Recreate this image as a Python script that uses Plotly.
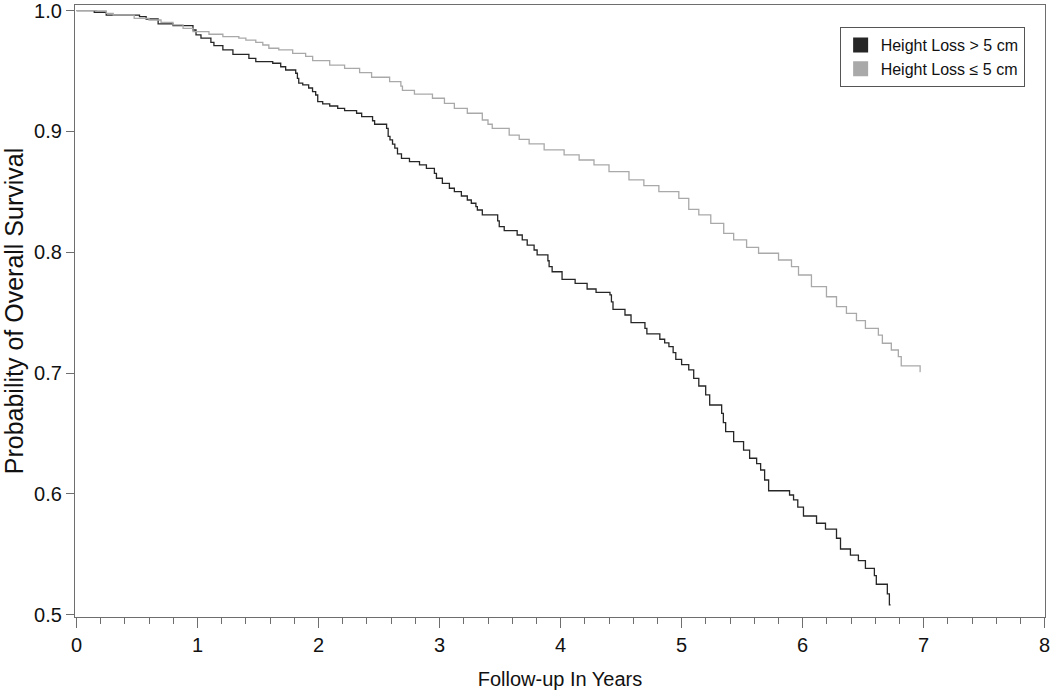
import plotly.graph_objects as go

# Kaplan-Meier step points: (years, survival)
loss_gt5_years = [0, 0.146, 0.245, 0.52, 0.575, 0.674, 0.797, 0.962, 0.987, 1.028, 1.110, 1.135,
                  1.209, 1.292, 1.424, 1.481, 1.621, 1.687, 1.728, 1.811, 1.825, 1.836, 1.869,
                  1.918, 1.950, 1.976, 1.993, 2.034, 2.092, 2.158, 2.215, 2.314, 2.356, 2.446,
                  2.463, 2.562, 2.575, 2.590, 2.611, 2.630, 2.652, 2.685, 2.751, 2.834, 2.891,
                  2.957, 2.974, 3.023, 3.081, 3.122, 3.180, 3.229, 3.262, 3.300, 3.312, 3.353,
                  3.480, 3.493, 3.534, 3.641, 3.683, 3.724, 3.781, 3.806, 3.895, 3.905, 3.930,
                  4.012, 4.120, 4.219, 4.293, 4.408, 4.420, 4.433, 4.532, 4.582, 4.697, 4.713,
                  4.820, 4.860, 4.895, 4.930, 4.952, 5.000, 5.059, 5.100, 5.142, 5.199, 5.232,
                  5.331, 5.345, 5.364, 5.430, 5.512, 5.562, 5.620, 5.653, 5.686, 5.719, 5.892,
                  5.925, 5.960, 6.007, 6.115, 6.189, 6.280, 6.313, 6.395, 6.461, 6.519, 6.593,
                  6.609, 6.700, 6.717, 6.727]
loss_gt5_surv = [1.0, 0.9987, 0.9964, 0.9950, 0.9931, 0.9890, 0.9876, 0.9840, 0.9799, 0.9772,
                 0.9738, 0.9710, 0.9675, 0.9639, 0.9606, 0.9578, 0.9565, 0.9536, 0.9509, 0.9482,
                 0.9440, 0.9401, 0.9385, 0.9360, 0.9330, 0.9302, 0.9247, 0.9228, 0.9211, 0.9192,
                 0.9172, 0.9151, 0.9123, 0.9089, 0.9060, 0.9026, 0.8960, 0.8930, 0.8895, 0.8863,
                 0.8814, 0.8778, 0.8750, 0.8723, 0.8695, 0.8654, 0.8613, 0.8571, 0.8530, 0.8502,
                 0.8466, 0.8433, 0.8406, 0.8378, 0.8350, 0.8309, 0.8260, 0.8212, 0.8179, 0.8143,
                 0.8102, 0.8060, 0.8019, 0.7978, 0.7930, 0.7881, 0.7839, 0.7776, 0.7743, 0.7696,
                 0.7669, 0.7647, 0.7590, 0.7528, 0.7481, 0.7417, 0.7371, 0.7324, 0.7280, 0.7250,
                 0.7219, 0.7170, 0.7114, 0.7070, 0.7026, 0.6957, 0.6893, 0.6819, 0.6736, 0.6667,
                 0.6590, 0.6515, 0.6432, 0.6363, 0.6295, 0.6250, 0.6198, 0.6115, 0.6026, 0.5991,
                 0.5950, 0.5890, 0.5817, 0.5757, 0.5709, 0.5633, 0.5544, 0.5494, 0.5447, 0.5384,
                 0.5323, 0.5252, 0.5172, 0.5081, 0.5081]

loss_le5_years = [0, 0.162, 0.245, 0.303, 0.476, 0.599, 0.698, 0.797, 0.880, 0.962, 1.094, 1.209,
                  1.341, 1.399, 1.481, 1.539, 1.589, 1.671, 1.786, 1.893, 1.951, 2.092, 2.215,
                  2.339, 2.438, 2.587, 2.680, 2.693, 2.792, 2.941, 3.040, 3.122, 3.229, 3.353,
                  3.400, 3.435, 3.575, 3.658, 3.740, 3.864, 4.029, 4.153, 4.276, 4.400, 4.565,
                  4.688, 4.812, 4.977, 5.059, 5.142, 5.241, 5.348, 5.430, 5.537, 5.636, 5.801,
                  5.908, 5.966, 6.073, 6.197, 6.280, 6.362, 6.445, 6.519, 6.626, 6.659, 6.733,
                  6.791, 6.815, 6.971, 6.975]
loss_le5_surv = [1.0, 0.9998, 0.9978, 0.9964, 0.9937, 0.9923, 0.9904, 0.9882, 0.9854, 0.9826,
                 0.9805, 0.9785, 0.9772, 0.9757, 0.9738, 0.9716, 0.9689, 0.9675, 0.9647, 0.9622,
                 0.9586, 0.9550, 0.9523, 0.9487, 0.9449, 0.9412, 0.9375, 0.9340, 0.9310, 0.9275,
                 0.9233, 0.9192, 0.9151, 0.9095, 0.9060, 0.9026, 0.8970, 0.8935, 0.8897, 0.8847,
                 0.8806, 0.8764, 0.8723, 0.8667, 0.8599, 0.8551, 0.8502, 0.8447, 0.8356, 0.8309,
                 0.8240, 0.8157, 0.8102, 0.8041, 0.7992, 0.7936, 0.7881, 0.7812, 0.7715, 0.7632,
                 0.7550, 0.7495, 0.7434, 0.7371, 0.7315, 0.7247, 0.7191, 0.7136, 0.7059, 0.7013,
                 0.7013]

series_names = ["Height Loss > 5 cm", "Height Loss \u2264 5 cm"]
series_colors = ["#262626", "#a9a9a9"]

FONT = "Liberation Sans, Arial, sans-serif"

fig = go.Figure()
for xs, ys, color in ((loss_gt5_years, loss_gt5_surv, series_colors[0]),
                      (loss_le5_years, loss_le5_surv, series_colors[1])):
    fig.add_trace(go.Scatter(x=xs, y=ys, mode="lines", line=dict(color=color, width=1.3, shape="hv"),
                             showlegend=False, hoverinfo="skip"))

# square swatches for the legend
for name, color in zip(series_names, series_colors):
    fig.add_trace(go.Scatter(x=[None], y=[None], mode="markers", name=name,
                             marker=dict(symbol="square", size=15, color=color)))

axis_common = dict(showgrid=False, zeroline=False, showline=True, linecolor="#6e6e6e", linewidth=1.3,
                   mirror=True, ticks="outside", tickcolor="#6e6e6e", automargin=False,
                   ticklabeloverflow="allow", tickfont=dict(size=20, color="#111"))
fig.update_xaxes(range=[-0.013, 8.003], tickvals=list(range(0, 9)), ticklen=10, tickwidth=1.3,
                 minor=dict(dtick=0.2, ticks="outside", ticklen=6, tickcolor="#6e6e6e", tickwidth=1.3),
                 title=dict(text="Follow-up In Years", font=dict(size=20, color="#111"), standoff=16),
                 **axis_common)
fig.update_yaxes(range=[0.4981, 1.0047], tickvals=[0.5, 0.6, 0.7, 0.8, 0.9, 1.0], tickformat=".1f",
                 ticklen=8, tickwidth=1.3,
                 title=dict(text="Probability of Overall Survival", font=dict(size=25, color="#111"), standoff=4),
                 **axis_common)

fig.update_layout(
    width=1050, height=698,
    margin=dict(l=75, r=5, t=5, b=81),
    plot_bgcolor="white", paper_bgcolor="white",
    font=dict(family=FONT, color="#111"),
    legend=dict(x=0.979, y=0.964, xanchor="right", yanchor="top", bgcolor="white",
                bordercolor="#555", borderwidth=1, font=dict(size=16, color="#111"),
                tracegroupgap=0, itemwidth=30),
)

# drop the default page margin so the figure sits at the window's top-left corner
fig.write_html("out.html", config={"displayModeBar": False},
               post_script="document.body.style.margin='0';document.body.style.overflow='hidden';")
